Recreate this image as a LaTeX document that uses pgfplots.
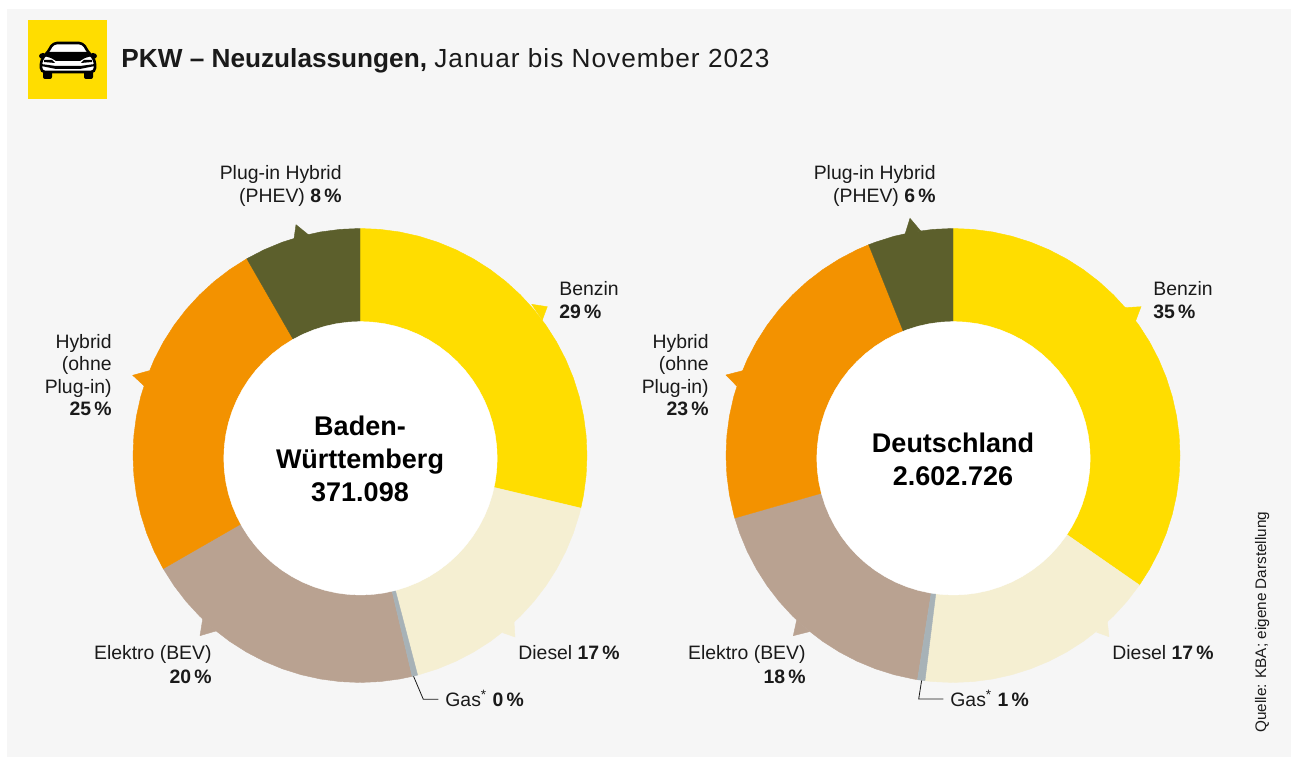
\documentclass[border=0pt]{standalone}
\usepackage{fontspec}
\setmainfont{Liberation Sans}
\usepackage{pgfplots}
\usepgfplotslibrary{polar}
\pgfplotsset{compat=1.18}
\definecolor{Bg}{HTML}{F6F6F6}
\definecolor{Gelb}{HTML}{FFDD00}
\definecolor{Creme}{HTML}{F5EFD2}
\definecolor{Gasgrau}{HTML}{A7B2B7}
\definecolor{Taupe}{HTML}{B9A291}
\definecolor{Orange}{HTML}{F39200}
\definecolor{Oliv}{HTML}{5C5F2C}
\definecolor{Ink}{HTML}{1A1A1A}
\tikzset{
  lbl/.style={font=\fontsize{9.7}{11}\selectfont,text=Ink,inner sep=0pt},
  ctr/.style={font=\fontsize{13.5}{16.5}\selectfont\bfseries,text=black,inner sep=0pt,anchor=base},
}
\pgfplotsset{
  donut/.style={scale only axis,width=227pt,height=227pt,hide axis,clip=false,
    xmin=0,xmax=360,ymin=0,ymax=227,anchor=center},
  sec/.style={fill=#1,draw=#1,line width=0.2pt,mark=none},
}
\pgfplotstableread{
theta r
0 136.7
5 136.7
10 136.7
15 136.7
20 136.7
25 136.7
30 136.7
35 136.7
40 136.7
45 136.7
50 136.7
55 136.7
60 136.7
65 136.7
70 136.7
75 136.7
80 136.7
85 136.7
90 136.7
95 136.7
100 136.7
105 136.7
110 136.7
115 136.7
120 136.7
125 136.7
130 136.7
135 136.7
140 136.7
145 136.7
150 136.7
155 136.7
160 136.7
165 136.7
170 136.7
175 136.7
180 136.7
185 136.7
190 136.7
195 136.7
200 136.7
205 136.7
210 136.7
215 136.7
220 136.7
225 136.7
230 136.7
235 136.7
240 136.7
245 136.7
250 136.7
255 136.7
260 136.7
265 136.7
270 136.7
275 136.7
280 136.7
285 136.7
290 136.7
295 136.7
300 136.7
305 136.7
310 136.7
315 136.7
320 136.7
325 136.7
330 136.7
335 136.7
340 136.7
345 136.7
350 136.7
355 136.7
}\hole
\begin{document}
\begin{tikzpicture}
\begin{axis}[scale only axis,width=645.5pt,height=379pt,hide axis,clip=false,
  xmin=0,xmax=1291,ymin=0,ymax=758,y dir=reverse]
% background and header
\fill[Bg] (7,9) rectangle (1291,757);
\fill[Gelb] (28,20) rectangle (107,99);
% car icon
\fill[black] (43,56) ellipse (4 and 3);
\fill[black] (93,56) ellipse (4 and 3);
\fill[black,rounded corners=1pt] (43,70) rectangle (52,79);
\fill[black,rounded corners=1pt] (84,70) rectangle (93,79);
\filldraw[fill=white,draw=black,line width=1.3pt,rounded corners=2pt]
  (41,72) -- (41,60) -- (48,52) -- (53,43) -- (83,43) -- (88,52) -- (95,60) -- (95,72) -- cycle;
\fill[black] (46,52) -- (90,52) -- (92,56) -- (85,58) -- (80,61) -- (56,61) -- (51,58) -- (44,56) -- cycle;
\fill[black] (41,64) -- (56,66) -- (80,66) -- (95,64) -- (95,66) -- (80,69) -- (56,69) -- (41,66) -- cycle;
\fill[black] (44,60) -- (52,60) -- (55,63) -- (44,62) -- cycle;
\fill[black] (92,60) -- (84,60) -- (81,63) -- (92,62) -- cycle;
\node[anchor=base west,inner sep=0pt,text=Ink,font=\fontsize{13.1}{15}\selectfont] at (121,68)
  {\textbf{PKW -- Neuzulassungen,} {\addfontfeature{LetterSpace=3.9}Januar bis November 2023}};
\node[anchor=base west,rotate=90,inner sep=0pt,text=Ink,font=\fontsize{7.65}{9}\selectfont] at (1266,733)
  {Quelle: KBA; eigene Darstellung};
% pointer tips of the sectors
\addplot[sec=Gelb] coordinates {(531.7,304.3)(547.3,306.7)(542.3,320)} --cycle;
\addplot[sec=Creme] coordinates {(514,621.7)(515,637)(502.7,632.7)} --cycle;
\addplot[sec=Taupe] coordinates {(202.7,619)(200,635.7)(216,631)} --cycle;
\addplot[sec=Orange] coordinates {(149.3,370.7)(132.7,375.3)(144.3,386)} --cycle;
\addplot[sec=Oliv] coordinates {(294,239)(296,224.7)(308.7,235)} --cycle;
\addplot[sec=Gelb] coordinates {(1125,307.7)(1141,306.7)(1135.7,320.7)} --cycle;
\addplot[sec=Creme] coordinates {(1107.3,621.7)(1109,636.7)(1096.7,632.3)} --cycle;
\addplot[sec=Taupe] coordinates {(796.7,620)(793.3,635.7)(809.3,631.7)} --cycle;
\addplot[sec=Orange] coordinates {(742.7,370.7)(726,375)(736.7,386)} --cycle;
\addplot[sec=Oliv] coordinates {(905,234.3)(910,218.3)(920.7,231)} --cycle;
% gas leaders
\addplot[draw=Ink,line width=0.4pt,mark=none] coordinates {(413.3,675.7)(423.3,699.3)(438.3,699.3)};
\addplot[draw=Ink,line width=0.4pt,mark=none] coordinates {(921.7,680)(918.7,699)(943.3,699)};
% labels left donut
\node[lbl,anchor=base east] at (342,180) {Plug-in Hybrid};
\node[lbl,anchor=base east] at (342,203) {(PHEV) \textbf{8\,\%}};
\node[lbl,anchor=base west] at (559,296) {Benzin};
\node[lbl,anchor=base west] at (559,319) {\textbf{29\,\%}};
\node[lbl,anchor=base west] at (518,660) {Diesel \textbf{17\,\%}};
\node[lbl,anchor=base west] at (445,706.7) {Gas\textsuperscript{*} \textbf{0\,\%}};
\node[lbl,anchor=base east] at (212,660) {Elektro (BEV)};
\node[lbl,anchor=base east] at (212,683) {\textbf{20\,\%}};
\node[lbl,anchor=base east] at (112,349) {Hybrid};
\node[lbl,anchor=base east] at (112,371) {(ohne};
\node[lbl,anchor=base east] at (112,393.5) {Plug-in)};
\node[lbl,anchor=base east] at (112,415.7) {\textbf{25\,\%}};
% labels right donut
\node[lbl,anchor=base east] at (936,180) {Plug-in Hybrid};
\node[lbl,anchor=base east] at (936,203) {(PHEV) \textbf{6\,\%}};
\node[lbl,anchor=base west] at (1153,296) {Benzin};
\node[lbl,anchor=base west] at (1153,319) {\textbf{35\,\%}};
\node[lbl,anchor=base west] at (1112,660) {Diesel \textbf{17\,\%}};
\node[lbl,anchor=base west] at (950,706.7) {Gas\textsuperscript{*} \textbf{1\,\%}};
\node[lbl,anchor=base east] at (806,660) {Elektro (BEV)};
\node[lbl,anchor=base east] at (806,683) {\textbf{18\,\%}};
\node[lbl,anchor=base east] at (709,349) {Hybrid};
\node[lbl,anchor=base east] at (709,371) {(ohne};
\node[lbl,anchor=base east] at (709,393.5) {Plug-in)};
\node[lbl,anchor=base east] at (709,415.7) {\textbf{23\,\%}};
\end{axis}

% Baden-Wuerttemberg
\begin{polaraxis}[donut,at={(180pt,151.25pt)}]
\addplot[sec=Gelb] coordinates {(0,0)(90,227)(85,227)(80,227)(75,227)(70,227)(65,227)(60,227)(55,227)(50,227)(45,227)(40,227)(35,227)(30,227)(25,227)(20,227)(15,227)(10,227)(5,227)(0,227)(-5,227)(-10,227)(-13.4,227)} --cycle;
\addplot[sec=Creme] coordinates {(0,0)(-13.4,227)(-15,227)(-20,227)(-25,227)(-30,227)(-35,227)(-40,227)(-45,227)(-50,227)(-55,227)(-60,227)(-65,227)(-70,227)(-75,227)(-75.3,227)} --cycle;
\addplot[sec=Taupe] coordinates {(0,0)(-76.7,227)(-80,227)(-85,227)(-90,227)(-95,227)(-100,227)(-105,227)(-110,227)(-115,227)(-120,227)(-125,227)(-130,227)(-135,227)(-140,227)(-145,227)(-150.1,227)} --cycle;
\addplot[sec=Orange] coordinates {(0,0)(-150.1,227)(-155,227)(-160,227)(-165,227)(-170,227)(-175,227)(-180,227)(-185,227)(-190,227)(-195,227)(-200,227)(-205,227)(-210,227)(-215,227)(-220,227)(-225,227)(-230,227)(-235,227)(-240.1,227)} --cycle;
\addplot[sec=Oliv] coordinates {(0,0)(-240.1,227)(-245,227)(-250,227)(-255,227)(-260,227)(-265,227)(-270,227)} --cycle;
\addplot[sec=Gasgrau] coordinates {(0,0)(-75.3,227)(-76.7,227)} --cycle;
\end{polaraxis}
% Deutschland
\begin{polaraxis}[donut,at={(476.5pt,151.25pt)}]
\addplot[sec=Gelb] coordinates {(0,0)(90,227)(85,227)(80,227)(75,227)(70,227)(65,227)(60,227)(55,227)(50,227)(45,227)(40,227)(35,227)(30,227)(25,227)(20,227)(15,227)(10,227)(5,227)(0,227)(-5,227)(-10,227)(-15,227)(-20,227)(-25,227)(-30,227)(-34.8,227)} --cycle;
\addplot[sec=Creme] coordinates {(0,0)(-34.8,227)(-40,227)(-45,227)(-50,227)(-55,227)(-60,227)(-65,227)(-70,227)(-75,227)(-80,227)(-85,227)(-90,227)(-95,227)(-97.1,227)} --cycle;
\addplot[sec=Taupe] coordinates {(0,0)(-99,227)(-100,227)(-105,227)(-110,227)(-115,227)(-120,227)(-125,227)(-130,227)(-135,227)(-140,227)(-145,227)(-150,227)(-155,227)(-160,227)(-164,227)} --cycle;
\addplot[sec=Orange] coordinates {(0,0)(-164,227)(-165,227)(-170,227)(-175,227)(-180,227)(-185,227)(-190,227)(-195,227)(-200,227)(-205,227)(-210,227)(-215,227)(-220,227)(-225,227)(-230,227)(-235,227)(-240,227)(-245,227)(-248.2,227)} --cycle;
\addplot[sec=Oliv] coordinates {(0,0)(-248.2,227)(-250,227)(-255,227)(-260,227)(-265,227)(-270,227)} --cycle;
\addplot[sec=Gasgrau] coordinates {(0,0)(-97.1,227)(-99,227)} --cycle;
\end{polaraxis}
% the holes sit a little below the centre of the rings
\begin{polaraxis}[donut,at={(180.25pt,149.85pt)}]
\addplot[fill=white,draw=white,line width=0.2pt,mark=none] table[x=theta,y=r] {\hole} --cycle;
\end{polaraxis}
\begin{polaraxis}[donut,at={(476.75pt,149.85pt)}]
\addplot[fill=white,draw=white,line width=0.2pt,mark=none] table[x=theta,y=r] {\hole} --cycle;
\end{polaraxis}
\node[ctr] at (180pt,161.2pt) {Baden-};
\node[ctr] at (180pt,144.7pt) {Württemberg};
\node[ctr] at (180pt,128.2pt) {371.098};
\node[ctr] at (476.5pt,152.7pt) {Deutschland};
\node[ctr] at (476.5pt,136.2pt) {2.602.726};

\useasboundingbox (0,0) rectangle (645.5pt,379pt);
\end{tikzpicture}
\end{document}
